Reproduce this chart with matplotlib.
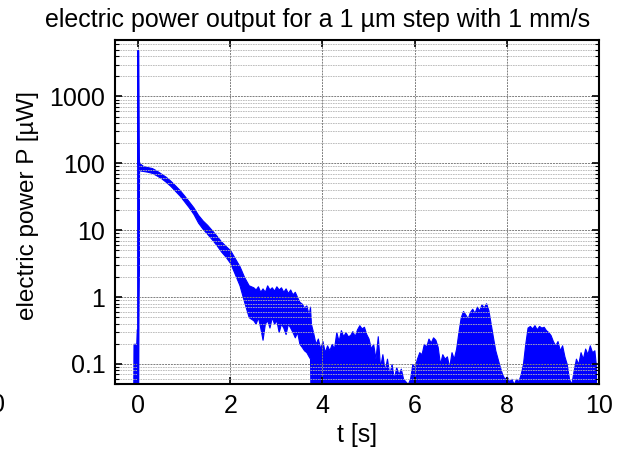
import matplotlib
matplotlib.use('Agg')
import matplotlib.pyplot as plt
from matplotlib.ticker import LogLocator, FixedLocator, NullFormatter
import numpy as np

plt.rcParams['font.family'] = ['Liberation Sans', 'DejaVu Sans']

F = 0.01  # stands for zero power (below the axis floor)

# spike when the step starts
t_peak = [0.0, 0.0, 0.015]
p_peak = [F, 4800, 100]

# envelope of the noisy trace: time, lower bound, upper bound (uW)
t_env = [-0.25, -0.11, -0.10, -0.04, -0.03, -0.005, 0.02, 0.05, 0.1, 0.2, 0.3, 0.4,
         0.5, 0.6, 0.7, 0.8, 0.9, 1.0, 1.1, 1.2, 1.3, 1.4, 1.5, 1.6, 1.7, 1.8, 1.9,
         2.0, 2.1, 2.2, 2.3, 2.4, 2.5, 2.55, 2.6, 2.65, 2.7, 2.75, 2.8, 2.85, 2.9,
         2.95, 3.0, 3.05, 3.1, 3.15, 3.2, 3.25, 3.3, 3.35, 3.4, 3.45, 3.5, 3.55,
         3.6, 3.65, 3.7, 3.73, 3.75, 3.8, 3.85, 3.9, 3.95, 4.0, 4.05, 4.1, 4.15,
         4.2, 4.25, 4.3, 4.35, 4.4, 4.45, 4.5, 4.55, 4.6, 4.65, 4.7, 4.75, 4.8,
         4.85, 4.9, 4.95, 5.0, 5.05, 5.1, 5.15, 5.2, 5.25, 5.3, 5.35, 5.4, 5.45,
         5.5, 5.55, 5.6, 5.65, 5.7, 5.75, 5.8, 5.85, 5.9, 5.95, 6.0, 6.05, 6.1,
         6.15, 6.2, 6.25, 6.3, 6.35, 6.4, 6.45, 6.5, 6.55, 6.6, 6.65, 6.7, 6.75,
         6.8, 6.85, 6.9, 6.95, 7.0, 7.05, 7.1, 7.15, 7.2, 7.25, 7.3, 7.35, 7.4,
         7.45, 7.5, 7.55, 7.6, 7.65, 7.7, 7.75, 7.8, 7.85, 7.9, 7.95, 8.0, 8.05,
         8.1, 8.15, 8.2, 8.25, 8.3, 8.35, 8.4, 8.45, 8.5, 8.55, 8.6, 8.65, 8.7,
         8.75, 8.8, 8.85, 8.9, 8.95, 9.0, 9.05, 9.1, 9.15, 9.2, 9.25, 9.3, 9.35,
         9.4, 9.45, 9.5, 9.55, 9.6, 9.65, 9.7, 9.75, 9.8, 9.85, 9.9, 9.93, 9.95, 10.0]
p_low = [F, F, F, F, F, F, 80, 78, 77, 75, 72, 66,
         60, 53, 46, 39, 33, 27, 22, 17.5, 13, 10.5, 8.8, 7.3, 6.0, 4.8, 4.0,
         3.2, 2.2, 1.5, 0.85, 0.5, 0.45, 0.4, 0.5, 0.35, 0.23, 0.4, 0.45, 0.35, 0.5,
         0.4, 0.45, 0.3, 0.4, 0.35, 0.28, 0.4, 0.35, 0.3, 0.25, 0.3, 0.2, 0.18,
         0.16, 0.15, 0.13, 0.12]
p_low = p_low + [F] * (len(t_env) - len(p_low))  # floor after 3.75 s
p_high = [F, F, 0.2, 0.2, 0.33, 0.33, 105, 98, 92, 88, 85, 78,
          70, 63, 55, 47, 40, 33, 27, 22, 17, 14, 12, 10, 8.3, 6.8, 5.8,
          5.0, 3.8, 2.9, 2.0, 1.5, 1.4, 1.3, 1.45, 1.2, 1.35, 1.2, 1.5, 1.3, 1.4,
          1.25, 1.45, 1.3, 1.4, 1.2, 1.35, 1.15, 1.3, 1.1, 1.2, 1.0, 0.85, 0.8,
          0.7, 0.75, 0.55, 0.72, 0.4, 0.29, 0.2, 0.24, 0.17, 0.22, 0.15, 0.19, 0.16,
          0.2, 0.17, 0.3, 0.22, 0.32, 0.26, 0.3, 0.26, 0.27, 0.31, 0.26, 0.33, 0.38,
          0.34, 0.36, 0.28, 0.24, 0.17, 0.2, 0.12, 0.26, 0.09, 0.14, 0.08, 0.12, 0.07,
          0.1, 0.06, 0.09, 0.07, 0.085, 0.06, 0.055, 0.05, 0.06, 0.1, 0.09, 0.12, 0.15,
          0.14, 0.2, 0.18, 0.24, 0.21, 0.25, 0.23, 0.18, 0.1, 0.14, 0.12, 0.13, 0.09,
          0.15, 0.12, 0.17, 0.3, 0.5, 0.62, 0.55, 0.48, 0.6, 0.67, 0.58, 0.72, 0.63,
          0.78, 0.7, 0.81, 0.64, 0.4, 0.25, 0.16, 0.12, 0.09, 0.07, 0.06, 0.065, 0.055,
          0.06, 0.05, 0.06, 0.055, 0.07, 0.1, 0.2, 0.35, 0.37, 0.34, 0.38, 0.33, 0.37,
          0.35, 0.36, 0.32, 0.3, 0.27, 0.22, 0.19, 0.22, 0.16, 0.19, 0.13, 0.1, 0.06,
          0.05, 0.08, 0.12, 0.1, 0.15, 0.12, 0.17, 0.14, 0.19, 0.15, 0.16, 0.1, F, F]

xticks = [0, 2, 4, 6, 8, 10]
yticks = [0.1, 1, 10, 100, 1000]
ytick_labels = ['0.1', '1', '10', '100', '1000']

fig = plt.figure(figsize=(6.22, 4.54), dpi=100)
ax = fig.add_axes([0.185, 0.154, 0.778, 0.758])

blue = '#0000ff'
ax.fill_between(t_env, p_low, p_high, color=blue, lw=0.8, edgecolor=blue)
ax.plot(t_peak, p_peak, color=blue, lw=1.5)

ax.set_yscale('log')
ax.set_xlim(-0.5, 10)
ax.set_ylim(0.05, 7000)

ax.xaxis.set_major_locator(FixedLocator(xticks))
ax.set_yticks(yticks)
ax.set_yticklabels(ytick_labels)
ax.yaxis.set_minor_locator(LogLocator(base=10, subs=np.arange(2, 10)))
ax.yaxis.set_minor_formatter(NullFormatter())

ax.grid(True, which='major', color='#7f7f7f', ls=(0, (2, 1)), lw=0.7)
ax.grid(True, which='minor', axis='y', color='#b4b4b4', ls=(0, (2, 1)), lw=0.6)

ax.tick_params(which='both', direction='in', top=True, right=True, labelsize=18, pad=7)
ax.tick_params(which='major', length=5, width=1.2)
ax.tick_params(which='minor', length=3, width=0.8)
for s in ax.spines.values():
    s.set_linewidth(1.5)

fig.text(0.51, 1 - 20 / 454, 'electric power output for a 1 µm step with 1 mm/s',
         fontsize=18, ha='center', va='center')
ax.set_xlabel('t [s]', fontsize=18, labelpad=4)
ax.set_ylabel('electric power P [µW]', fontsize=17.5)
ax.yaxis.set_label_coords(-0.158, 0.52)

# clipped leftover tick label at the left edge of the figure
fig.text(-0.004, 1 - 405 / 454, '0', fontsize=18, ha='center', va='center')

fig.savefig('out.png', dpi=100)
